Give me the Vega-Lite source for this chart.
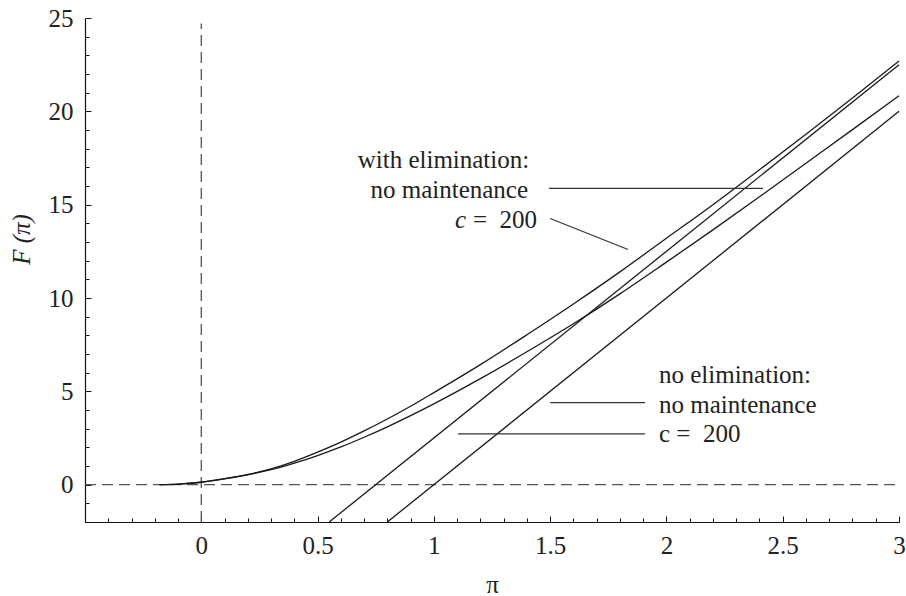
{
  "$schema": "https://vega.github.io/schema/vega-lite/v6.json",
  "width": 814,
  "height": 504,
  "autosize": {"type": "none"},
  "padding": {"left": 85, "top": 18, "right": 7, "bottom": 74},
  "background": "white",
  "config": {
    "view": {"stroke": null},
    "font": "Liberation Serif",
    "axis": {"grid": false, "domainColor": "#111", "tickColor": "#111", "labelColor": "#222", "titleColor": "#222", "labelFont": "Liberation Serif", "titleFont": "Liberation Serif", "labelFontSize": 25, "titleFontSize": 25, "titleFontWeight": "normal", "domainWidth": 1.2, "tickWidth": 1}
  },
  "datasets": {
    "curves": [
      {"series": "elim_nomaint", "x": -0.18, "y": 0},
      {"series": "elim_nomaint", "x": -0.1, "y": 0.03},
      {"series": "elim_nomaint", "x": 0, "y": 0.13},
      {"series": "elim_nomaint", "x": 0.1, "y": 0.32},
      {"series": "elim_nomaint", "x": 0.2, "y": 0.55},
      {"series": "elim_nomaint", "x": 0.3, "y": 0.85},
      {"series": "elim_nomaint", "x": 0.4, "y": 1.25},
      {"series": "elim_nomaint", "x": 0.5, "y": 1.74},
      {"series": "elim_nomaint", "x": 0.6, "y": 2.28},
      {"series": "elim_nomaint", "x": 0.7, "y": 2.88},
      {"series": "elim_nomaint", "x": 0.8, "y": 3.52},
      {"series": "elim_nomaint", "x": 0.9, "y": 4.2},
      {"series": "elim_nomaint", "x": 1.0, "y": 4.93},
      {"series": "elim_nomaint", "x": 1.2, "y": 6.43},
      {"series": "elim_nomaint", "x": 1.4, "y": 8.03},
      {"series": "elim_nomaint", "x": 1.6, "y": 9.68},
      {"series": "elim_nomaint", "x": 1.8, "y": 11.4},
      {"series": "elim_nomaint", "x": 2.0, "y": 13.2},
      {"series": "elim_nomaint", "x": 2.2, "y": 15.0},
      {"series": "elim_nomaint", "x": 2.4, "y": 16.87},
      {"series": "elim_nomaint", "x": 2.6, "y": 18.77},
      {"series": "elim_nomaint", "x": 2.8, "y": 20.72},
      {"series": "elim_nomaint", "x": 3.0, "y": 22.7},
      {"series": "elim_c200", "x": -0.18, "y": 0},
      {"series": "elim_c200", "x": -0.1, "y": 0.03},
      {"series": "elim_c200", "x": 0, "y": 0.13},
      {"series": "elim_c200", "x": 0.1, "y": 0.31},
      {"series": "elim_c200", "x": 0.2, "y": 0.53},
      {"series": "elim_c200", "x": 0.3, "y": 0.8},
      {"series": "elim_c200", "x": 0.4, "y": 1.15},
      {"series": "elim_c200", "x": 0.5, "y": 1.56},
      {"series": "elim_c200", "x": 0.6, "y": 2.02},
      {"series": "elim_c200", "x": 0.7, "y": 2.54},
      {"series": "elim_c200", "x": 0.8, "y": 3.1},
      {"series": "elim_c200", "x": 0.9, "y": 3.7},
      {"series": "elim_c200", "x": 1.0, "y": 4.33},
      {"series": "elim_c200", "x": 1.2, "y": 5.68},
      {"series": "elim_c200", "x": 1.4, "y": 7.12},
      {"series": "elim_c200", "x": 1.6, "y": 8.62},
      {"series": "elim_c200", "x": 1.8, "y": 10.22},
      {"series": "elim_c200", "x": 2.0, "y": 11.92},
      {"series": "elim_c200", "x": 2.2, "y": 13.65},
      {"series": "elim_c200", "x": 2.4, "y": 15.42},
      {"series": "elim_c200", "x": 2.6, "y": 17.22},
      {"series": "elim_c200", "x": 2.8, "y": 19.02},
      {"series": "elim_c200", "x": 3.0, "y": 20.83},
      {"series": "noelim_nomaint", "x": 0.55, "y": -2},
      {"series": "noelim_nomaint", "x": 3.0, "y": 22.5},
      {"series": "noelim_c200", "x": 0.8, "y": -2},
      {"series": "noelim_c200", "x": 3.0, "y": 20.0}
    ],
    "pointers": [
      {"x": 1.495, "x2": 2.415, "y": 15.87, "y2": 15.87},
      {"x": 1.5, "x2": 1.835, "y": 14.26, "y2": 12.6},
      {"x": 1.5, "x2": 1.908, "y": 4.4, "y2": 4.4},
      {"x": 1.104, "x2": 1.908, "y": 2.72, "y2": 2.72}
    ],
    "dashes": [
      {"x": 0, "x2": 0, "y": -2, "y2": 24.7},
      {"x": -0.5, "x2": 3, "y": 0, "y2": 0}
    ],
    "labelsRight": [
      {"x": 1.41, "y": 16.98, "text": "with elimination:"},
      {"x": 1.405, "y": 15.37, "text": "no maintenance"},
      {"x": 1.444, "y": 13.76, "text": "=\u00a0\u00a0200"}
    ],
    "labelsItalic": [
      {"x": 1.139, "y": 13.76, "text": "c"}
    ],
    "labelsLeft": [
      {"x": 1.968, "y": 5.44, "text": "no elimination:"},
      {"x": 1.968, "y": 3.83, "text": "no maintenance"},
      {"x": 1.968, "y": 2.31, "text": "c\u00a0=\u00a0\u00a0200"}
    ]
  },
  "layer": [
    {
      "data": {"name": "dashes"},
      "mark": {"type": "rule", "strokeDash": [11, 6], "color": "#555", "strokeWidth": 1.3},
      "encoding": {
        "x": {"field": "x", "type": "quantitative", "scale": {"domain": [-0.5, 3], "nice": false, "zero": false},
          "axis": {
            "values": [-0.5, -0.4, -0.3, -0.2, -0.1, 0, 0.1, 0.2, 0.3, 0.4, 0.5, 0.6, 0.7, 0.8, 0.9, 1, 1.1, 1.2, 1.3, 1.4, 1.5, 1.6, 1.7, 1.8, 1.9, 2, 2.1, 2.2, 2.3, 2.4, 2.5, 2.6, 2.7, 2.8, 2.9, 3],
            "tickCount": 1000,
            "format": "~g",
            "labelExpr": "(abs(datum.value*2 - round(datum.value*2)) < 0.000001 && datum.value > -0.45) ? datum.label : ''",
            "labelOverlap": false,
            "labelFlush": false,
            "tickSize": {"condition": {"test": "abs(datum.value*2 - round(datum.value*2)) < 0.000001", "value": -6}, "value": -4},
            "labelPadding": 17,
            "title": "π",
            "titlePadding": 12
          }
        },
        "x2": {"field": "x2"},
        "y": {"field": "y", "type": "quantitative", "scale": {"domain": [-2, 25], "nice": false, "zero": false},
          "axis": {
            "values": [-2, -1, 0, 1, 2, 3, 4, 5, 6, 7, 8, 9, 10, 11, 12, 13, 14, 15, 16, 17, 18, 19, 20, 21, 22, 23, 24, 25],
            "tickCount": 1000,
            "format": "~g",
            "labelExpr": "datum.value % 5 === 0 ? datum.label : ''",
            "labelOverlap": false,
            "labelFlush": false,
            "tickSize": {"condition": {"test": "datum.value % 5 === 0", "value": -6}, "value": -4},
            "labelPadding": 18,
            "title": "F (π)",
            "titleFontStyle": "italic",
            "titlePadding": 14,
            "titleY": 221
          }
        },
        "y2": {"field": "y2"}
      }
    },
    {
      "data": {"name": "curves"},
      "mark": {"type": "line", "color": "#1a1a1a", "strokeWidth": 1.3, "interpolate": "monotone"},
      "encoding": {
        "x": {"field": "x", "type": "quantitative"},
        "y": {"field": "y", "type": "quantitative"},
        "detail": {"field": "series"}
      }
    },
    {
      "data": {"name": "pointers"},
      "mark": {"type": "rule", "color": "#333", "strokeWidth": 1.2},
      "encoding": {
        "x": {"field": "x", "type": "quantitative"},
        "x2": {"field": "x2"},
        "y": {"field": "y", "type": "quantitative"},
        "y2": {"field": "y2"}
      }
    },
    {
      "data": {"name": "labelsRight"},
      "mark": {"type": "text", "font": "Liberation Serif", "fontSize": 25, "color": "#222", "baseline": "alphabetic", "align": "right"},
      "encoding": {
        "x": {"field": "x", "type": "quantitative"},
        "y": {"field": "y", "type": "quantitative"},
        "text": {"field": "text"}
      }
    },
    {
      "data": {"name": "labelsItalic"},
      "mark": {"type": "text", "font": "Liberation Serif", "fontSize": 25, "fontStyle": "italic", "color": "#222", "baseline": "alphabetic", "align": "right"},
      "encoding": {
        "x": {"field": "x", "type": "quantitative"},
        "y": {"field": "y", "type": "quantitative"},
        "text": {"field": "text"}
      }
    },
    {
      "data": {"name": "labelsLeft"},
      "mark": {"type": "text", "font": "Liberation Serif", "fontSize": 25, "color": "#222", "baseline": "alphabetic", "align": "left"},
      "encoding": {
        "x": {"field": "x", "type": "quantitative"},
        "y": {"field": "y", "type": "quantitative"},
        "text": {"field": "text"}
      }
    }
  ]
}
